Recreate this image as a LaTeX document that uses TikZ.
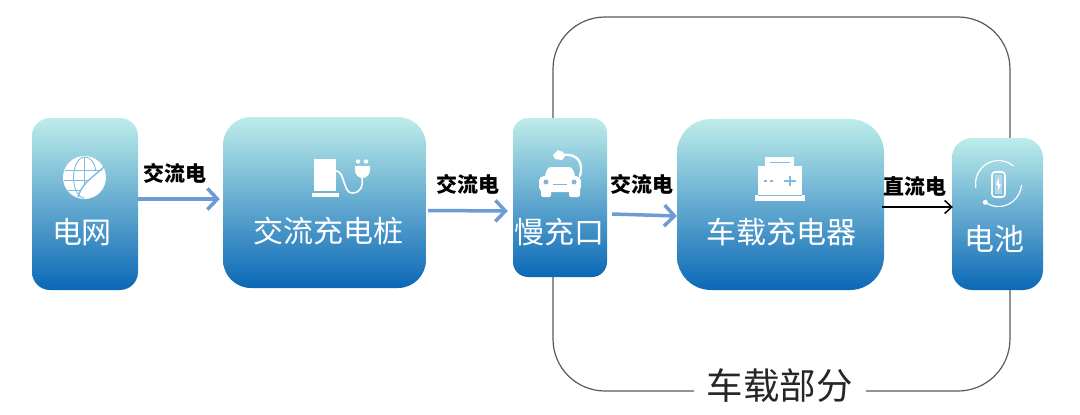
\documentclass[tikz,border=0pt]{standalone}
\usepackage{fontspec}
\setmainfont{Noto Sans CJK SC}
\usepackage{xcolor}
\definecolor{ctop}{HTML}{BDEDEA}
\definecolor{cmid}{HTML}{66AFD2}
\definecolor{cbottom}{HTML}{0B68B6}
\definecolor{carrow}{HTML}{6C9BD6}
\definecolor{cicon}{HTML}{7DBCE0}
\usetikzlibrary{arrows.meta}
\tikzset{
Box/.style={
	top color=ctop,
	middle color=cmid,
	bottom color=cbottom,
	draw=none
},
BoxText/.style={
	text=white,
	font=\fontsize{30}{30}\selectfont,
	inner sep=0pt
},
EdgeText/.style={
	font=\fontsize{21}{21}\selectfont\bfseries,
	inner sep=0pt
},
Edge/.style={
	draw=black,
	line width=1.5pt,
	-{Straight Barb[length=7pt,width=13pt]}
},
BlueEdge/.style={
	Edge,
	draw=carrow,
	line width=3.5pt,
	-{Straight Barb[length=10pt,width=21pt]}
},
Frame/.style={
	draw=black!65,
	line width=1.2pt,
	rounded corners=52pt,
	minimum width=457pt,
	minimum height=374pt
},
IconFill/.style={
	fill=white,
	draw=none
},
IconLine/.style={
	draw=white,
	line width=1.6pt,
	line cap=round
},
IconThin/.style={
	draw=cicon,
	line width=0.9pt
}
}

\begin{document}
\begin{tikzpicture}[x=1pt, y=-1pt]
	\useasboundingbox (0,0) rectangle (1080,415);

	\node[Frame] (frame) at (781.5,204) {};
	\node[fill=white, inner sep=0pt, minimum width=172pt, minimum height=44pt, font=\fontsize{36.5}{36.5}\selectfont, text=black!85] (onboard) at ([xshift=-2pt, yshift=6pt]frame.south) {车载部分};

	\node[Box, rounded corners=18pt, minimum width=106pt, minimum height=172pt] (grid) at (85,204) {};
	\node[Box, rounded corners=28pt, minimum width=203pt, minimum height=171pt] (pile) at (324.5,202.5) {};
	\node[Box, rounded corners=15pt, minimum width=94pt, minimum height=159pt] (port) at (560,197.5) {};
	\node[Box, rounded corners=34pt, minimum width=207pt, minimum height=171pt] (charger) at (780.5,204.5) {};
	\node[Box, rounded corners=20pt, minimum width=91pt, minimum height=152pt] (battery) at (997.5,214) {};

	\node[BoxText] (gridtext) at (82,232) {电网};
	\node[BoxText] (piletext) at (328,231) {交流充电桩};
	\node[BoxText] (porttext) at (559,232) {慢充口};
	\node[BoxText] (chargertext) at (781,232) {车载充电器};
	\node[BoxText] (batterytext) at (994,239) {电池};

	\draw[BlueEdge] ([yshift=5pt]grid.east) -- ([xshift=-3pt, yshift=3.5pt]pile.west);
	\draw[BlueEdge] ([xshift=2pt, yshift=-8pt]pile.east) -- ([xshift=-5pt, yshift=-13.5pt]port.west);
	\draw[BlueEdge] ([xshift=5pt, yshift=-16.5pt]port.east) -- ([yshift=-11.5pt]charger.west);
	\draw[Edge] ([xshift=-2pt, yshift=-2.5pt]charger.east) -- ([xshift=1pt, yshift=7pt]battery.west);

	\node[EdgeText] (gridac) at (174.5,173) {交流电};
	\node[EdgeText] (pileac) at (468,184) {交流电};
	\node[EdgeText] (portac) at (642,184) {交流电};
	\node[EdgeText] (chargerdc) at (915,186) {直流电};

	% grid icon
	\fill[IconFill] (84.5,177.5) circle (21.5);
	\draw[IconThin] (84.5,157) arc[start angle=-90, end angle=-270, x radius=11, y radius=20.5];
	\draw[IconThin] (84.5,157) -- (84.5,186);
	\draw[IconThin] (84.5,157) arc[start angle=-90, end angle=0, x radius=11, y radius=14];
	\draw[IconThin] (65,170) -- (102,170);
	\draw[IconThin] (64,180) -- (88,180);
	\draw[IconThin] (68,190) -- (80,190);
	\draw[IconThin, line width=1.4pt] (78,197) .. controls (82,183) and (92,178) .. (104,167);

	% pile icon
	\fill[IconFill] (314,159) rectangle (336,191);
	\fill[IconFill] (312,193) rectangle (339,196.5);
	\draw[IconLine] (336,171) .. controls (345,171) and (343,193) .. (352,193) .. controls (361,193) and (363,186) .. (362,178);
	\fill[IconFill] (355,166) -- (370,166) -- (370,170) .. controls (370,175) and (366,178) .. (362.5,178) .. controls (359,178) and (355,175) .. (355,170) -- cycle;
	\fill[IconFill] (358,161.5) circle (2.2);
	\fill[IconFill] (366,161.5) circle (2.2);

	% port icon
	\fill[IconFill, rounded corners=3pt] (548,167) -- (572,167) -- (576,178) -- (544,178) -- cycle;
	\fill[IconFill, rounded corners=5pt] (539,176) rectangle (581,192);
	\fill[IconFill, rounded corners=2pt] (541,188) rectangle (551,197);
	\fill[IconFill, rounded corners=2pt] (569,188) rectangle (580,197);
	\fill[cbottom!50] (546,182) circle (2.5);
	\fill[cbottom!50] (574,182) circle (2.5);
	\draw[cbottom!50, line width=1pt] (553,184) -- (567,184);
	\draw[IconLine, line width=2.4pt] (562,155) .. controls (577,153) and (584,162) .. (580,176);
	\fill[IconFill] (553,155) -- (558,150) -- (563,152) -- (565,156) -- (562,160) -- (555,159) -- cycle;

	% charger icon
	\fill[IconFill] (765,157) rectangle (794,168);
	\fill[IconFill] (758,166) rectangle (802,196);
	\fill[IconFill] (755,195) rectangle (805,200.5);
	\draw[IconThin, line width=1pt] (770,162) -- (790,162);
	\draw[IconThin, line width=1pt] (758,195) -- (802,195);
	\draw[IconThin, line width=1.6pt, dashed] (764,181) -- (774,181);
	\draw[IconThin, line width=1.8pt] (784,181) -- (796,181);
	\draw[IconThin, line width=1.8pt] (790,176) -- (790,186);

	% battery icon
	\draw[IconLine, line width=1.2pt] (1013.3,165.9) arc[start angle=-50, end angle=-190, radius=23];
	\draw[IconLine, line width=1.2pt] (1021.4,185.5) arc[start angle=5, end angle=125, radius=23];
	\fill[IconFill] (985.3,202.3) circle (2.5);
	\draw[IconLine, rounded corners=3pt] (992,172) rectangle (1005,197);
	\fill[cicon!60] (995,175) rectangle (1002,194);
	\fill[IconFill] (998.5,178) -- (996,185) -- (998,185) -- (998,191) -- (1001,184) -- (999,184) -- cycle;
\end{tikzpicture}
\end{document}
